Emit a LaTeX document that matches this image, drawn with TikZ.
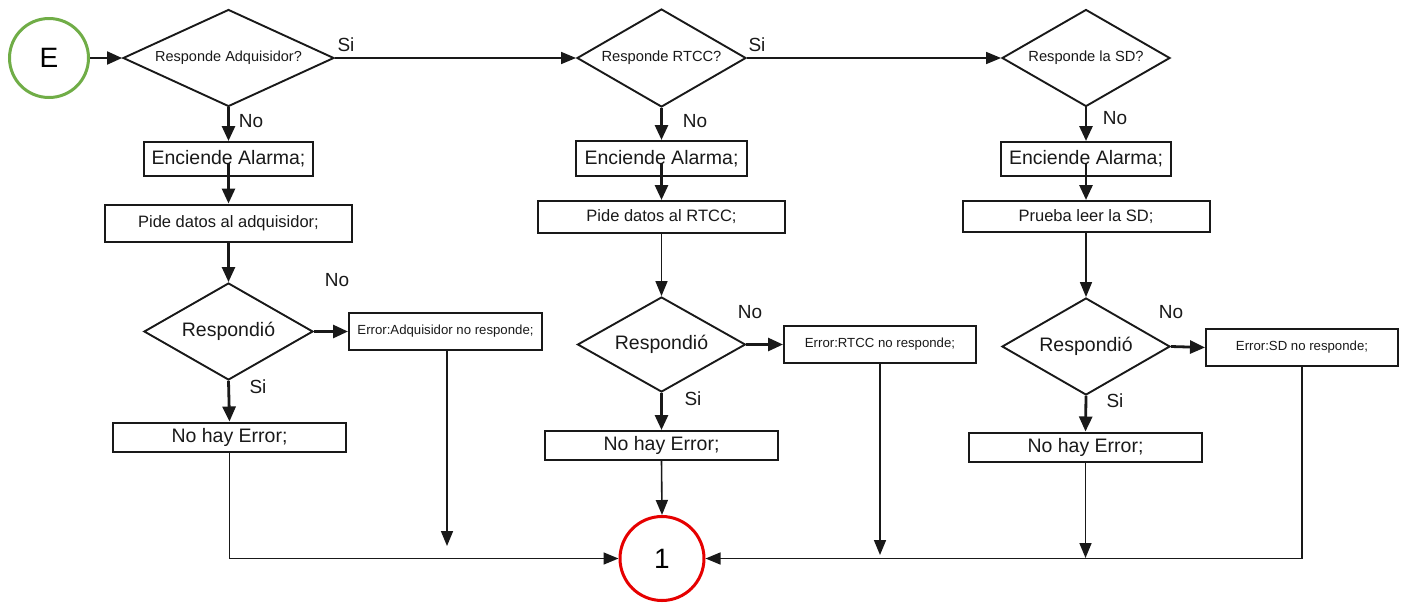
\documentclass[tikz,border=0pt]{standalone}
\usepackage{fontspec}
\setmainfont{Liberation Sans}
\usetikzlibrary{shapes.geometric,arrows.meta,calc}

\definecolor{startgreen}{RGB}{112,173,71}
\definecolor{endred}{RGB}{230,0,0}
\definecolor{ink}{RGB}{25,25,25}

\newcommand{\fs}[1]{\fontsize{#1}{#1}\selectfont}

\tikzset{
  box/.style={draw=ink, line width=2pt, rectangle, inner sep=0pt, align=center, text=ink},
  dia/.style={draw=ink, line width=1.9pt, diamond, aspect=2, inner sep=0pt, text=ink},
  lbl/.style={inner sep=0pt, text=ink, font=\fs{19}},
  flowthick/.style={draw=ink, line width=2.8pt, -{Triangle[length=15pt,width=13pt]}},
  flowthin/.style={draw=ink, line width=1.6pt, -{Triangle[length=15pt,width=12pt]}},
}

\begin{document}
\begin{tikzpicture}[x=1pt, y=-1pt]
\useasboundingbox (0,0) rectangle (1402,603);

% start and end connectors
\node[circle, draw=startgreen, line width=3pt, minimum size=79pt, inner sep=0pt, font=\fs{28}] (E) at (49,58) {E};
\node[circle, draw=endred, line width=3pt, minimum size=84pt, inner sep=0pt, font=\fs{28}] (one) at (662,558.5) {1};

% questions on top
\node[dia, minimum width=211pt, minimum height=97pt, font=\fs{14.5}] (d1) at (228.5,58) {Responde Adquisidor?};
\node[dia, minimum width=169pt, minimum height=98pt, font=\fs{14.7}] (d2) at (661.5,58) {Responde RTCC?};
\node[dia, minimum width=168pt, minimum height=97pt, font=\fs{14.7}] (d3) at (1086,58) {Responde la SD?};

% alarm boxes
\node[box, minimum width=169pt, minimum height=34pt, font=\fs{19.5}] (e1) at (228.5,159) {Enciende Alarma;};
\node[box, minimum width=171pt, minimum height=35pt, font=\fs{19.5}] (e2) at (661.5,158.5) {Enciende Alarma;};
\node[box, minimum width=170pt, minimum height=34pt, font=\fs{19.5}] (e3) at (1086,159) {Enciende Alarma;};

% request boxes
\node[box, minimum width=247pt, minimum height=37pt, font=\fs{16.5}] (p1) at (228.5,223) {Pide datos al adquisidor;};
\node[box, minimum width=247pt, minimum height=32pt, font=\fs{16.5}] (p2) at (661.5,217) {Pide datos al RTCC;};
\node[box, minimum width=247pt, minimum height=31pt, font=\fs{16.5}] (p3) at (1086,216.5) {Prueba leer la SD;};

% answer checks
\node[dia, minimum width=169pt, minimum height=97pt, font=\fs{19.5}] (r1) at (228.5,331.5) {Respondió};
\node[dia, minimum width=168pt, minimum height=95pt, font=\fs{19.5}] (r2) at (661.5,344.5) {Respondió};
\node[dia, minimum width=168pt, minimum height=97pt, font=\fs{19.5}] (r3) at (1086,346.5) {Respondió};

% error boxes
\node[box, minimum width=193pt, minimum height=37pt, font=\fs{13.2}] (x1) at (445.5,331.5) {Error:Adquisidor no responde;};
\node[box, minimum width=192pt, minimum height=37pt, font=\fs{13.2}] (x2) at (880,344.5) {Error:RTCC no responde;};
\node[box, minimum width=192pt, minimum height=37pt, font=\fs{13.2}] (x3) at (1302,347.5) {Error:SD no responde;};

% no-error boxes
\node[box, minimum width=233pt, minimum height=29pt, font=\fs{19.5}] (n1) at (229.5,437) {No hay Error;};
\node[box, minimum width=233pt, minimum height=29pt, font=\fs{19.5}] (n2) at (661.5,445.5) {No hay Error;};
\node[box, minimum width=233pt, minimum height=29pt, font=\fs{19.5}] (n3) at (1085.5,447) {No hay Error;};

% branch labels
\node[lbl] (s1) at (346,45) {Si};
\node[lbl] (s2) at (757,45) {Si};
\node[lbl] (no1) at (251,121) {No};
\node[lbl] (no2) at (695,121) {No};
\node[lbl] (no3) at (1115,118) {No};
\node[lbl] (nr1) at (337,280) {No};
\node[lbl] (nr2) at (750,312) {No};
\node[lbl] (nr3) at (1171,312) {No};
\node[lbl] (sr1) at (258,387) {Si};
\node[lbl] (sr2) at (693,399) {Si};
\node[lbl] (sr3) at (1115,401) {Si};

% free ends of the error lines
\coordinate (t1) at ($(x1.south)+(1.5,0)$);
\coordinate (t2) at (x2.south);
\coordinate (t3) at (x3.south);
\coordinate (b1) at (t1 |- 0,546);
\coordinate (b2) at (t2 |- 0,555);
\coordinate (b3) at (n3.south |- 0,558);

% top row
\draw[flowthick, line width=2pt] (E.east) -- (d1.west);
\draw[flowthin] (d1.east) -- (d2.west);
\draw[flowthin] (d2.east) -- (d3.west);

% column flows
\foreach \i in {1,2,3}{
  \draw[flowthick] (d\i.south) -- (e\i.north);
  \draw[flowthick] ($(e\i.center)+(0,4)$) -- (p\i.north);
  \draw[flowthick] (r\i.east) -- (x\i.west);
  \draw[flowthick] (r\i.south) -- (n\i.north);
}
\draw[flowthick, line width=2.4pt] (p1.south) -- (r1.north);
\draw[flowthin] (p2.south) -- (r2.north);
\draw[flowthin] (p3.south) -- (r3.north);

% towards the end connector
\draw[flowthin] (n1.south) |- (one.west);
\draw[flowthin] (t1) -- (b1);
\draw[flowthin] (n2.south) -- (one.north);
\draw[flowthin] (t2) -- (b2);
\draw[flowthin] (t3) |- (one.east);
\draw[flowthin] (n3.south) -- (b3);
\end{tikzpicture}
\end{document}
